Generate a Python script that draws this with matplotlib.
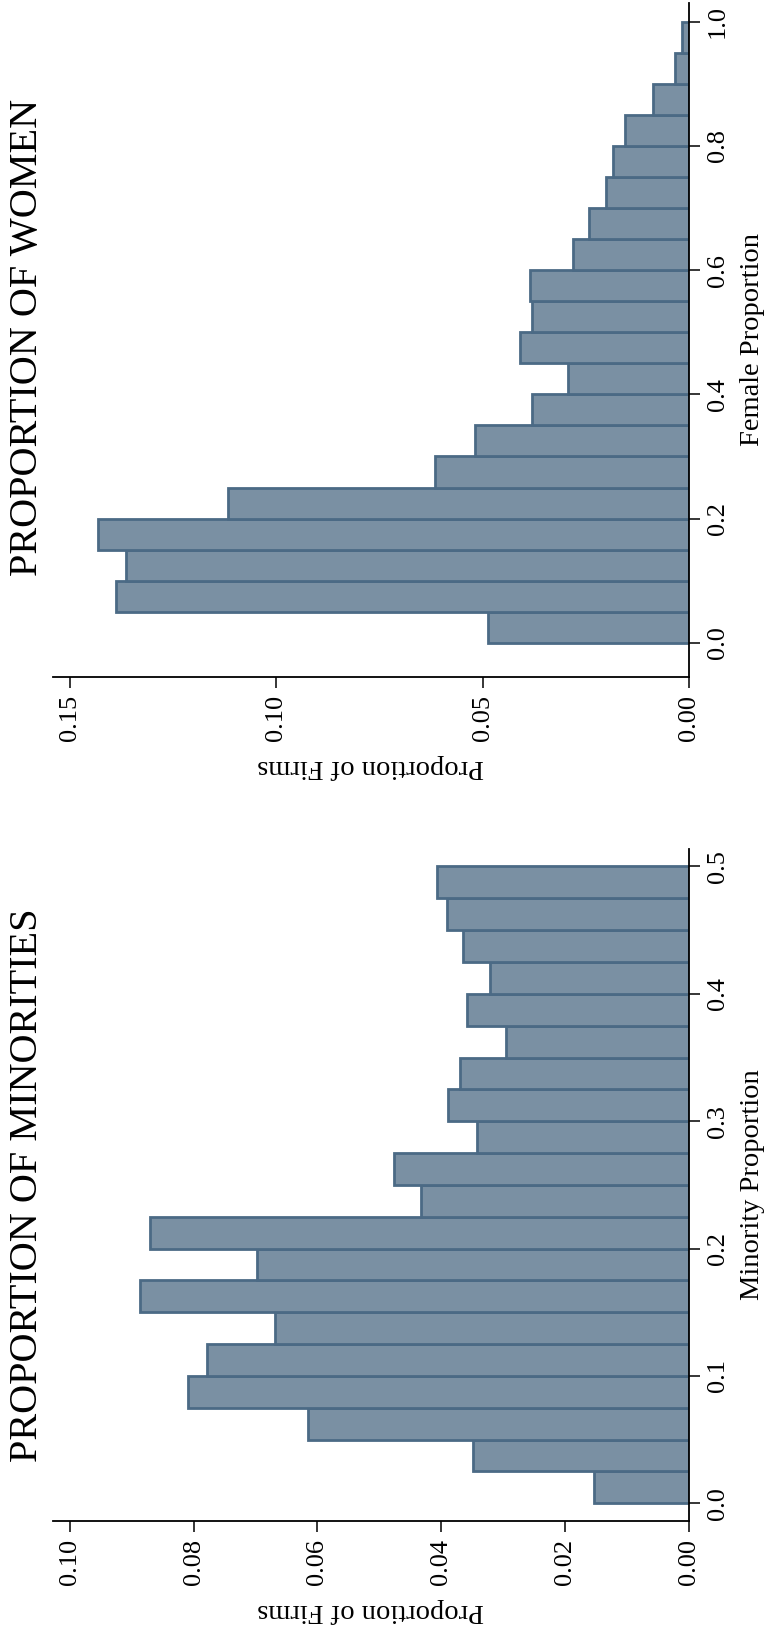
import numpy as np
import matplotlib
matplotlib.use("Agg")
import matplotlib.pyplot as plt

plt.rcParams['font.family'] = ['Liberation Serif', 'DejaVu Serif']

# histogram data (bin starts, density as proportion of firms)
minority_bins = np.arange(0, 0.5, 0.025)
minority_share = [0.0153, 0.0348, 0.0616, 0.0809, 0.0779, 0.0668, 0.0887, 0.0698,
                  0.0870, 0.0433, 0.0476, 0.0343, 0.0389, 0.0369, 0.0295, 0.0358,
                  0.0322, 0.0365, 0.0390, 0.0407]
minority_ticks = [0.0, 0.1, 0.2, 0.3, 0.4, 0.5]
minority_firm_ticks = [0.00, 0.02, 0.04, 0.06, 0.08, 0.10]

female_bins = np.arange(0, 1.0, 0.05)
female_share = [0.0486, 0.1388, 0.1363, 0.1430, 0.1117, 0.0614, 0.0517, 0.0380,
                0.0292, 0.0410, 0.0381, 0.0384, 0.0281, 0.0241, 0.0201, 0.0184,
                0.0156, 0.0087, 0.0033, 0.0017]
female_ticks = [0.0, 0.2, 0.4, 0.6, 0.8, 1.0]
female_firm_ticks = [0.00, 0.05, 0.10, 0.15]

W, H = 768, 1637
fill = '#7a90a3'
edge = '#4b6a85'

fig = plt.figure(figsize=(W / 100, H / 100), dpi=100)


def px_axes(left, top, right, bottom):
    return fig.add_axes([left / W, 1 - bottom / H, (right - left) / W, (bottom - top) / H])


def draw_panel(ax, bins, share, width, yticks, xticks, xmax, ylim, ylabel):
    ax.barh(bins, share, height=width, align='edge', color=fill,
            edgecolor=edge, linewidth=2.0)
    ax.set_xlim(xmax, 0)
    ax.set_ylim(*ylim)
    for s in ['top', 'left']:
        ax.spines[s].set_visible(False)
    for s in ['bottom', 'right']:
        ax.spines[s].set_linewidth(1.3)
    ax.yaxis.tick_right()
    ax.yaxis.set_label_position('right')
    ax.set_yticks(yticks)
    ax.set_yticklabels(['%.1f' % v for v in yticks], rotation=90, va='center')
    ax.set_xticks(xticks)
    ax.set_xticklabels(['%.2f' % v for v in xticks], rotation=90)
    ax.tick_params(direction='out', length=8, width=1.1, labelsize=19, pad=5)
    ax.set_xlabel('Proportion of Firms', rotation=180, fontsize=20.5, labelpad=9)
    ax.set_ylabel(ylabel, rotation=90, fontsize=20.5, labelpad=8)


ax_w = px_axes(53, 3, 689, 677)
draw_panel(ax_w, female_bins, female_share, 0.05, female_ticks, female_firm_ticks,
           0.154, (-0.055, 1.03), 'Female Proportion')

ax_m = px_axes(53, 849, 689, 1521)
draw_panel(ax_m, minority_bins, minority_share, 0.025, minority_ticks, minority_firm_ticks,
           0.1027, (-0.0139, 0.5137), 'Minority Proportion')

fig.text(28 / W, 1 - 337 / H, 'PROPORTION OF WOMEN', rotation=90,
         ha='center', va='center', fontsize=29)
fig.text(28 / W, 1 - 1185 / H, 'PROPORTION OF MINORITIES', rotation=90,
         ha='center', va='center', fontsize=29)

fig.savefig('out.png', dpi=100)
